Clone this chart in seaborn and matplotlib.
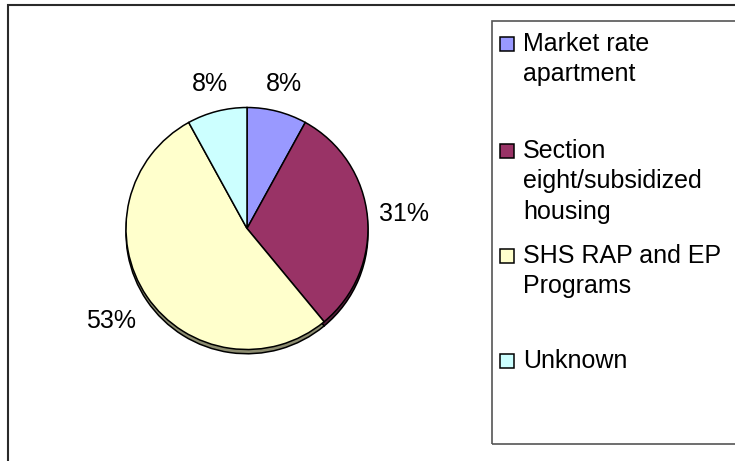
import numpy as np
import matplotlib
matplotlib.use("Agg")
import matplotlib.pyplot as plt
import matplotlib.patches as mpatches
import seaborn as sns

# ---- data ----
categories = ["Market rate\napartment",
              "Section\neight/subsidized\nhousing",
              "SHS RAP and EP\nPrograms",
              "Unknown"]
shares = [8, 31, 53, 8]
pct_labels = ["8%", "31%", "53%", "8%"]
colors = ["#9999FF", "#993366", "#FFFFCC", "#CCFFFF"]

# ---- layout (pixels) ----
W, H = 735, 461
label_dist = [1.23, 1.30, 1.355, 1.23]

sns.set_theme(style="white")
plt.rcParams["font.family"] = ["Liberation Sans", "DejaVu Sans"]

fig = plt.figure(figsize=(W / 100, H / 100), dpi=100)
fig.patch.set_facecolor("white")


def fx(px):
    return px / W


def fy(py):
    return 1 - py / H


# outer chart border (right/bottom run off the image)
fig.patches.append(mpatches.Rectangle((fx(8), fy(470)), fx(740) - fx(8), fy(5) - fy(470),
                                      transform=fig.transFigure, fill=False,
                                      edgecolor="#2a2a2a", linewidth=1.5, zorder=0))

# pie axes: centre at (247, 228) px, radius 121 px
cx, cy, R = 247, 228.5, 121
half = 150
ax = fig.add_axes([fx(cx - half), fy(cy + half), 2 * half / W, 2 * half / H])
lim = half / R
ax.set_xlim(-lim, lim)
ax.set_ylim(-lim, lim)
ax.axis("off")

shadow_cols = [tuple(np.array(matplotlib.colors.to_rgb(c)) * 0.55) for c in colors]
ax.pie(shares, colors=shadow_cols, startangle=90, counterclock=False,
       center=(0.0, -0.035), radius=1.0,
       wedgeprops=dict(edgecolor="black", linewidth=1.1))
wedges, _ = ax.pie(shares, colors=colors, startangle=90, counterclock=False,
                   center=(0.0, 0.0), radius=1.0,
                   wedgeprops=dict(edgecolor="black", linewidth=1.1))
ax.set_xlim(-lim, lim)
ax.set_ylim(-lim, lim)

for w, lab, d in zip(wedges, pct_labels, label_dist):
    ang = np.deg2rad((w.theta1 + w.theta2) / 2)
    ax.text(d * np.cos(ang), d * np.sin(ang), lab, ha="center", va="center",
            fontsize=18, color="black")

# legend box
lx0, ly0, lx1, ly1 = 491.5, 21, 745, 444
fig.patches.append(mpatches.Rectangle((fx(lx0), fy(ly1)), fx(lx1) - fx(lx0), fy(ly0) - fy(ly1),
                                      transform=fig.transFigure, fill=False,
                                      edgecolor="#555555", linewidth=1.2, zorder=1))
first_line_y = [44, 151, 256, 361]
for cat, col, yy in zip(categories, colors, first_line_y):
    fig.patches.append(mpatches.Rectangle((fx(500), fy(yy + 7)), fx(14), 14 / H,
                                          transform=fig.transFigure, facecolor=col,
                                          edgecolor="black", linewidth=1.1, zorder=2))
    fig.text(fx(523), fy(yy - 12), cat, ha="left", va="top", fontsize=18,
             linespacing=1.34, color="black")

fig.savefig("out.png", dpi=100)
